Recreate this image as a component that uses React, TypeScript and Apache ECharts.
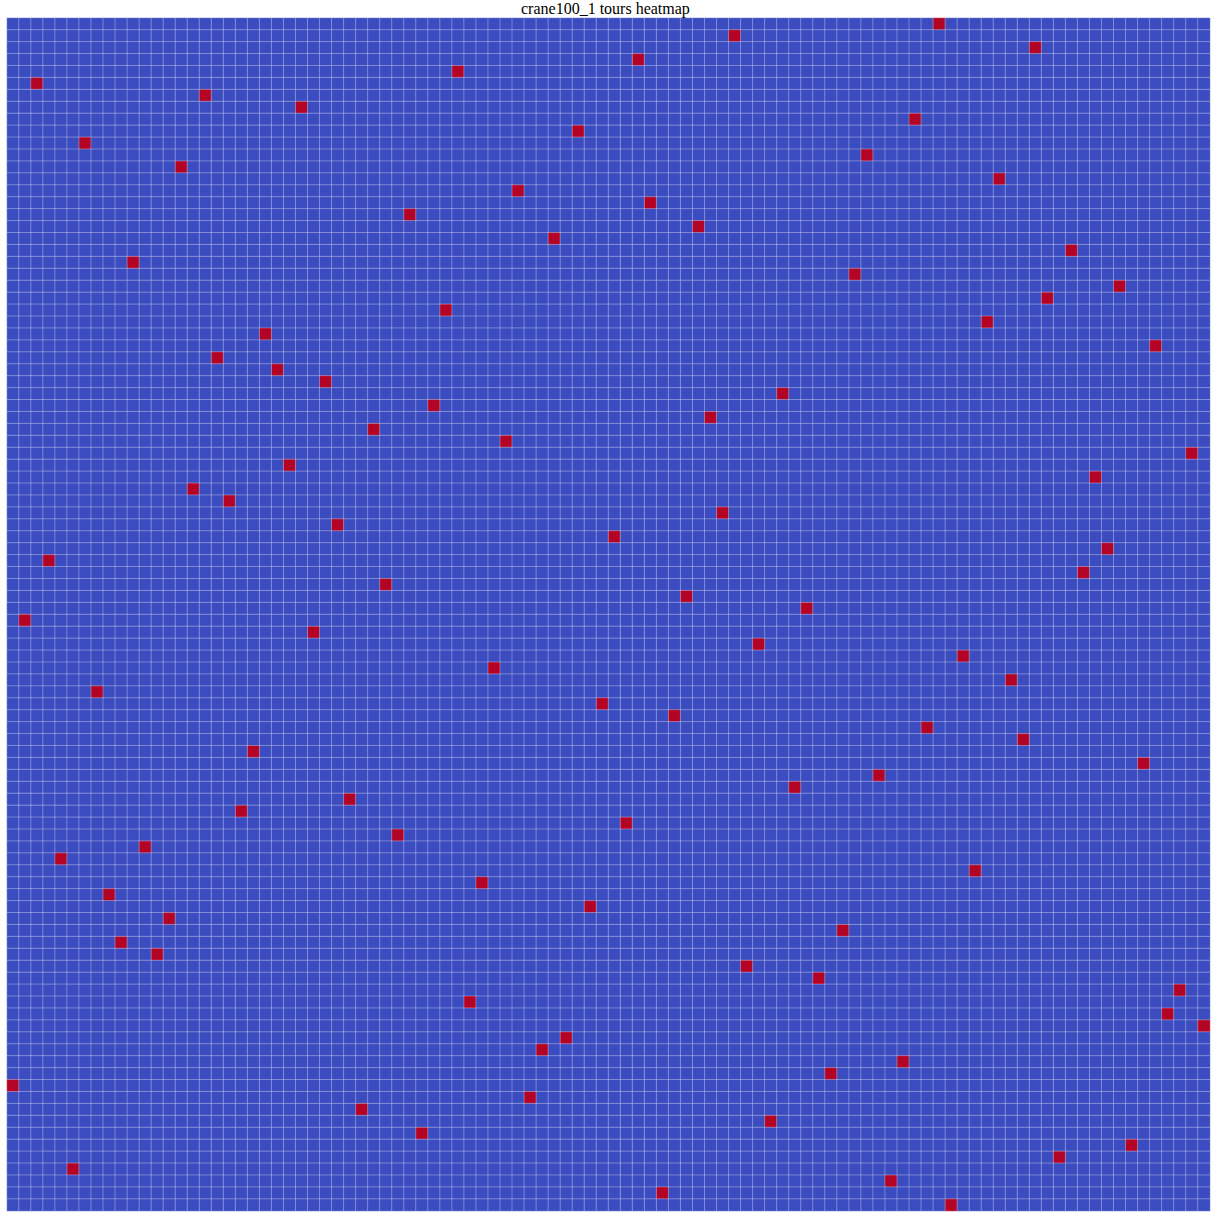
import React, { useEffect, useRef } from "react";
import * as echarts from "echarts";

const N = 100;
// column index of the red (tour) cell in each row, row 0 at top
const tourCols = [
  77, 60, 85, 52, 37, 2, 16, 24, 75, 47,
  6, 71, 14, 82, 42, 53, 33, 57, 45, 88,
  10, 70, 92, 86, 36, 81, 21, 95, 17, 22,
  26, 64, 35, 58, 30, 41, 98, 23, 90, 15,
  18, 59, 27, 50, 91, 3, 89, 31, 56, 66,
  1, 25, 62, 79, 40, 83, 7, 49, 55, 76,
  84, 20, 94, 72, 65, 28, 19, 51, 32, 11,
  4, 80, 39, 8, 48, 13, 69, 9, 12, 61,
  67, 97, 38, 96, 99, 46, 44, 74, 68, 0,
  43, 29, 63, 34, 93, 87, 5, 73, 54, 78,
];
const xCats = Array.from({ length: N }, (_, i) => String(i));
const yCats = Array.from({ length: N }, (_, i) => String(i));

export default function App() {
  const ref = useRef<HTMLDivElement>(null);
  useEffect(() => {
    if (!ref.current) return;
    const chart = echarts.init(ref.current, null, { renderer: "svg" });
    const data: number[][] = [];
    for (let r = 0; r < N; r++) {
      for (let c = 0; c < N; c++) {
        data.push([c, r, tourCols[r] === c ? 1 : 0]);
      }
    }
    chart.setOption({
      animation: false,
      backgroundColor: "#ffffff",
      title: {
        text: "crane100_1 tours heatmap",
        left: 521,
        top: 0,
        padding: 0,
        textStyle: {
          fontFamily: "Liberation Serif",
          fontSize: 16,
          fontWeight: "normal",
          color: "#000",
        },
      },
      grid: { left: 7, top: 18, width: 1203, height: 1193 },
      xAxis: {
        type: "category",
        data: xCats,
        show: false,
        splitArea: { show: false },
      },
      yAxis: {
        type: "category",
        data: yCats,
        inverse: true,
        show: false,
      },
      visualMap: {
        show: false,
        min: 0,
        max: 1,
        dimension: 2,
        inRange: { color: ["#3b4cc0", "#b40426"] },
      },
      series: [
        {
          type: "heatmap",
          data,
          itemStyle: { borderColor: "rgba(255,255,255,0.3)", borderWidth: 1 },
          emphasis: { disabled: true },
        },
      ],
    });
    return () => chart.dispose();
  }, []);
  return (
    <div
      ref={ref}
      style={{ position: "absolute", left: 0, top: 0, width: 1218, height: 1218 }}
    />
  );
}
